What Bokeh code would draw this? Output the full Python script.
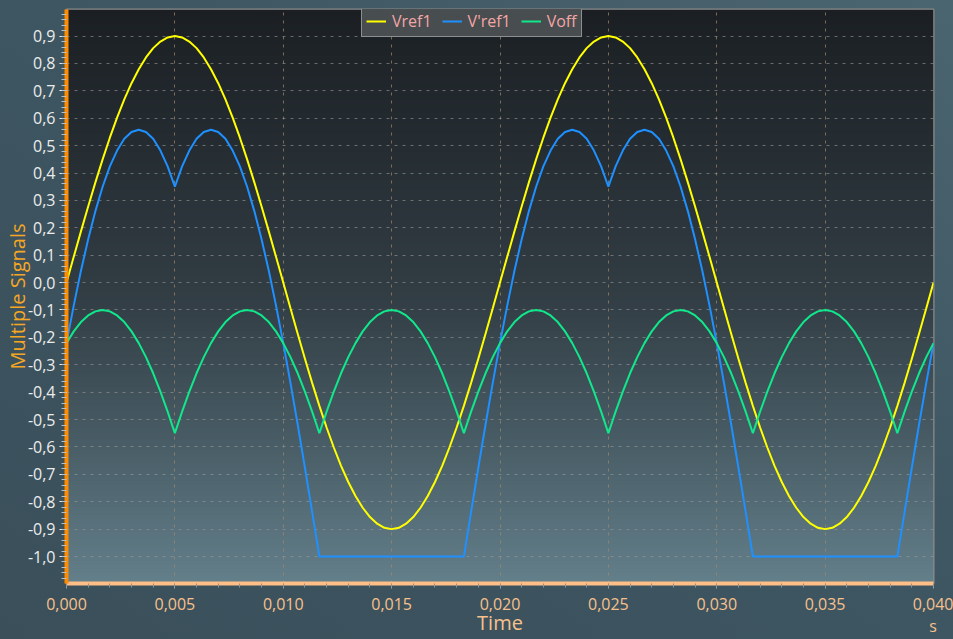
import numpy as np
from jinja2 import Template
from bokeh.plotting import figure
from bokeh.models import (Range1d, SingleIntervalTicker, CustomJSTickFormatter,
                          Legend, LegendItem, ColumnDataSource)
from bokeh.embed import file_html
from bokeh.resources import INLINE

# ---------------- data ----------------
T_START, T_END, N_SAMPLES = 0.0, 0.04, 121   # sample grid, every 1/3 ms

vref1 = [0.000, 0.094, 0.187, 0.278, 0.366, 0.450, 0.529, 0.602, 0.669, 0.728,
         0.779, 0.822, 0.856, 0.880, 0.895, 0.900, 0.895, 0.880, 0.856, 0.822,
         0.779, 0.728, 0.669, 0.602, 0.529, 0.450, 0.366, 0.278, 0.187, 0.094,
         0.000, -0.094, -0.187, -0.278, -0.366, -0.450, -0.529, -0.602, -0.669, -0.728,
         -0.779, -0.822, -0.856, -0.880, -0.895, -0.900, -0.895, -0.880, -0.856, -0.822,
         -0.779, -0.728, -0.669, -0.602, -0.529, -0.450, -0.366, -0.278, -0.187, -0.094,
         0.000, 0.094, 0.187, 0.278, 0.366, 0.450, 0.529, 0.602, 0.669, 0.728,
         0.779, 0.822, 0.856, 0.880, 0.895, 0.900, 0.895, 0.880, 0.856, 0.822,
         0.779, 0.728, 0.669, 0.602, 0.529, 0.450, 0.366, 0.278, 0.187, 0.094,
         0.000, -0.094, -0.187, -0.278, -0.366, -0.450, -0.529, -0.602, -0.669, -0.728,
         -0.779, -0.822, -0.856, -0.880, -0.895, -0.900, -0.895, -0.880, -0.856, -0.822,
         -0.779, -0.728, -0.669, -0.602, -0.529, -0.450, -0.366, -0.278, -0.187, -0.094,
         0.000]

vref1_prime = [-0.221, -0.084, 0.043, 0.158, 0.261, 0.350, 0.424, 0.482, 0.525, 0.550,
               0.558, 0.550, 0.525, 0.482, 0.424, 0.350, 0.424, 0.482, 0.525, 0.550,
               0.558, 0.550, 0.525, 0.482, 0.424, 0.350, 0.261, 0.158, 0.043, -0.084,
               -0.221, -0.366, -0.518, -0.676, -0.837, -1.000, -1.000, -1.000, -1.000, -1.000,
               -1.000, -1.000, -1.000, -1.000, -1.000, -1.000, -1.000, -1.000, -1.000, -1.000,
               -1.000, -1.000, -1.000, -1.000, -1.000, -1.000, -0.837, -0.676, -0.518, -0.366,
               -0.221, -0.084, 0.043, 0.158, 0.261, 0.350, 0.424, 0.482, 0.525, 0.550,
               0.558, 0.550, 0.525, 0.482, 0.424, 0.350, 0.424, 0.482, 0.525, 0.550,
               0.558, 0.550, 0.525, 0.482, 0.424, 0.350, 0.261, 0.158, 0.043, -0.084,
               -0.221, -0.366, -0.518, -0.676, -0.837, -1.000, -1.000, -1.000, -1.000, -1.000,
               -1.000, -1.000, -1.000, -1.000, -1.000, -1.000, -1.000, -1.000, -1.000, -1.000,
               -1.000, -1.000, -1.000, -1.000, -1.000, -1.000, -0.837, -0.676, -0.518, -0.366,
               -0.221]

voff = [-0.221, -0.178, -0.144, -0.120, -0.105, -0.100, -0.105, -0.120, -0.144, -0.178,
        -0.221, -0.272, -0.331, -0.398, -0.471, -0.550, -0.471, -0.398, -0.331, -0.272,
        -0.221, -0.178, -0.144, -0.120, -0.105, -0.100, -0.105, -0.120, -0.144, -0.178,
        -0.221, -0.272, -0.331, -0.398, -0.471, -0.550, -0.471, -0.398, -0.331, -0.272,
        -0.221, -0.178, -0.144, -0.120, -0.105, -0.100, -0.105, -0.120, -0.144, -0.178,
        -0.221, -0.272, -0.331, -0.398, -0.471, -0.550, -0.471, -0.398, -0.331, -0.272,
        -0.221, -0.178, -0.144, -0.120, -0.105, -0.100, -0.105, -0.120, -0.144, -0.178,
        -0.221, -0.272, -0.331, -0.398, -0.471, -0.550, -0.471, -0.398, -0.331, -0.272,
        -0.221, -0.178, -0.144, -0.120, -0.105, -0.100, -0.105, -0.120, -0.144, -0.178,
        -0.221, -0.272, -0.331, -0.398, -0.471, -0.550, -0.471, -0.398, -0.331, -0.272,
        -0.221, -0.178, -0.144, -0.120, -0.105, -0.100, -0.105, -0.120, -0.144, -0.178,
        -0.221, -0.272, -0.331, -0.398, -0.471, -0.550, -0.471, -0.398, -0.331, -0.272,
        -0.221]

series_names = ["Vref1", "V'ref1", "Voff"]
series_colors = ["#ffff00", "#1e90ff", "#10e88c"]

x_title = "Time"
x_unit = "s"
y_title = "Multiple Signals"

X_MIN, X_MAX = 0.0, 0.04
Y_MIN, Y_MAX = -1.0985, 0.997

t = np.linspace(T_START, T_END, N_SAMPLES)
source = ColumnDataSource(dict(t=t, vref1=vref1, vref1p=vref1_prime, voff=voff))

# ---------------- figure ----------------
FONT = "Open Sans"
p = figure(width=953, height=639, title=None,
           x_range=Range1d(X_MIN, X_MAX), y_range=Range1d(Y_MIN, Y_MAX),
           output_backend="svg", toolbar_location=None,
           min_border_left=66, min_border_right=20,
           min_border_top=9, min_border_bottom=56)
p.border_fill_color = None
p.background_fill_color = None
p.outline_line_color = "#8c8c8c"
p.outline_line_width = 2

# vertical gradient behind the data area
stops_pos = [0.0, 0.25, 0.5, 0.76, 1.0]          # bottom -> top
stops_rgb = np.array([[99, 127, 138], [72, 92, 101], [50, 61, 68],
                      [37, 45, 50], [27, 31, 35]], dtype=float)
H = 300
f = np.linspace(0, 1, H)
rgb = np.stack([np.interp(f, stops_pos, stops_rgb[:, k]) for k in range(3)], axis=1)
img = np.empty((H, 1), dtype=np.uint32)
view = img.view(dtype=np.uint8).reshape((H, 1, 4))
view[:, 0, 0] = rgb[:, 0].round().astype(np.uint8)
view[:, 0, 1] = rgb[:, 1].round().astype(np.uint8)
view[:, 0, 2] = rgb[:, 2].round().astype(np.uint8)
view[:, 0, 3] = 255
p.image_rgba(image=[img], x=X_MIN, y=Y_MIN, dw=X_MAX - X_MIN, dh=Y_MAX - Y_MIN,
             level="image")

# x axis (the unit "s" sits under the last tick label)
xa = p.xaxis[0]
xa.ticker = SingleIntervalTicker(interval=0.005, num_minor_ticks=5)
xa.formatter = CustomJSTickFormatter(
    args=dict(unit=x_unit, last=X_MAX),
    code="let s = tick.toFixed(3).replace('.', ',');"
         "if (Math.abs(tick - last) < 1e-9) { s += '\\n' + unit; } return s;")
xa.axis_line_color = "#ffbe85"
xa.axis_line_width = 4
xa.major_tick_out = 5
xa.major_tick_in = 0
xa.minor_tick_out = 4
xa.minor_tick_in = 0
xa.major_tick_line_color = "#9aa4aa"
xa.minor_tick_line_color = "#8a949a"
xa.major_label_text_color = "#f7c08c"
xa.major_label_text_font = FONT
xa.major_label_text_font_size = "16px"
xa.major_label_text_line_height = 1.0
xa.major_label_standoff = 4
xa.axis_label = x_title
xa.axis_label_text_color = "#f7c08c"
xa.axis_label_text_font = FONT
xa.axis_label_text_font_size = "20px"
xa.axis_label_text_font_style = "normal"
xa.axis_label_standoff = -31

# y axis
ya = p.yaxis[0]
ya.ticker = SingleIntervalTicker(interval=0.1, num_minor_ticks=5)
ya.formatter = CustomJSTickFormatter(
    code="if (Math.abs(tick) < 1e-9) { return '0,0'; } return tick.toFixed(1).replace('.', ',');")
ya.axis_line_color = "#ff8c00"
ya.axis_line_width = 4
ya.major_tick_out = 7
ya.major_tick_in = 0
ya.minor_tick_out = 5
ya.minor_tick_in = 0
ya.major_tick_line_color = "#f0f0f0"
ya.minor_tick_line_color = "#b8c0c4"
ya.major_label_text_color = "#ececec"
ya.major_label_text_font = FONT
ya.major_label_text_font_size = "16px"
ya.major_label_standoff = 4
ya.axis_label = y_title
ya.axis_label_text_color = "#f5a623"
ya.axis_label_text_font = FONT
ya.axis_label_text_font_size = "20px"
ya.axis_label_text_font_style = "normal"
ya.axis_label_standoff = -6

# grids
p.xgrid.grid_line_color = "#a08a6e"
p.xgrid.grid_line_alpha = 0.7
p.xgrid.grid_line_dash = "3 5"
p.ygrid.grid_line_color = "#9a9a9a"
p.ygrid.grid_line_alpha = 0.6
p.ygrid.grid_line_dash = "3 5"

# series
r1 = p.line("t", "vref1", source=source, line_color=series_colors[0], line_width=2)
r2 = p.line("t", "vref1p", source=source, line_color=series_colors[1], line_width=2)
r3 = p.line("t", "voff", source=source, line_color=series_colors[2], line_width=2)

legend = Legend(items=[LegendItem(label=series_names[0], renderers=[r1]),
                       LegendItem(label=series_names[1], renderers=[r2]),
                       LegendItem(label=series_names[2], renderers=[r3])],
                orientation="horizontal", location=(295, 546),
                label_text_color="#f4a6a6", label_text_font=FONT,
                label_text_font_size="16px",
                background_fill_color="#4a4e51", background_fill_alpha=0.97,
                border_line_color="#cfcfcf", border_line_width=1.5,
                glyph_width=20, glyph_height=18, label_height=18,
                label_standoff=6, spacing=10, padding=4, margin=0)
p.add_layout(legend, "center")

TEMPLATE = Template("""{% extends base %}
{% block preamble %}<style>
html, body { background: linear-gradient(to bottom left, #4a6470 0%, #3e5763 40%, #3a4f5a 100%) fixed; }
</style>{% endblock %}
""")

open("out.html", "w").write(file_html(p, INLINE, template=TEMPLATE))
